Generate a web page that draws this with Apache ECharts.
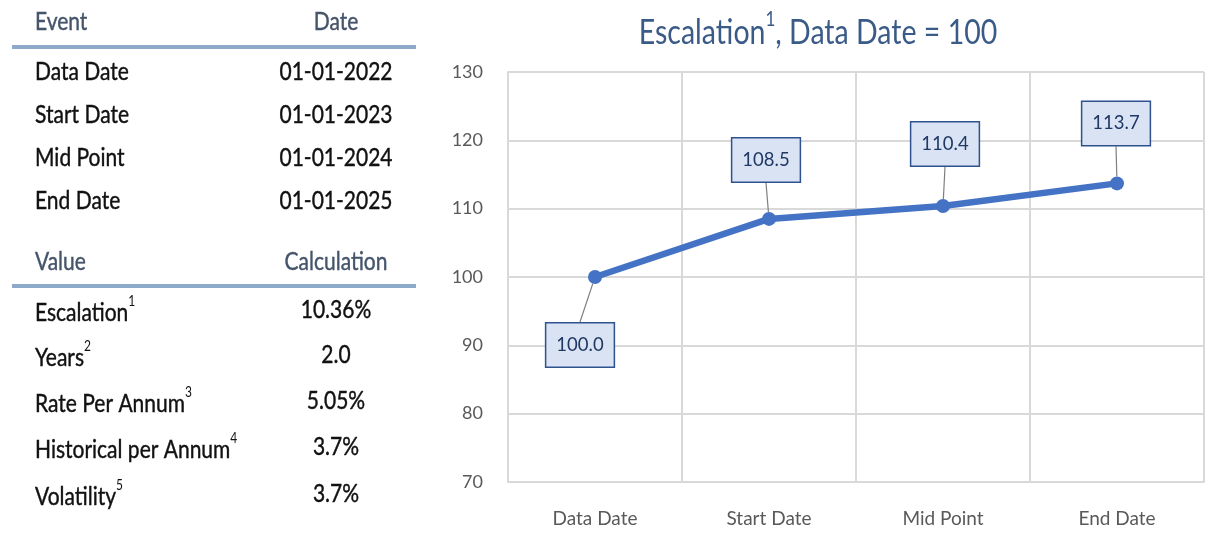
<!DOCTYPE html>
<html>
<head>
<meta charset="utf-8">
<script src="https://cdn.jsdelivr.net/npm/echarts@6/dist/echarts.min.js"></script>
<style>
  html, body { margin: 0; padding: 0; background: #ffffff; }
  #chart { width: 1218px; height: 539px; }
</style>
</head>
<body>
<div id="chart"></div>
<script>
// Escalation index by milestone (Data Date = 100)
const categories = ['Data Date', 'Start Date', 'Mid Point', 'End Date'];
const escalationIndex = [100.0, 108.5, 110.4, 113.7];
const yTicks = [70, 80, 90, 100, 110, 120, 130];

// Milestone table
const eventNames = ['Data Date', 'Start Date', 'Mid Point', 'End Date'];
const eventDates = ['01-01-2022', '01-01-2023', '01-01-2024', '01-01-2025'];

// Calculated values table (name, footnote number, value)
const valueNames = ['Escalation', 'Years', 'Rate Per Annum', 'Historical per Annum', 'Volatility'];
const valueNotes = ['1', '2', '3', '4', '5'];
const valueCalcs = ['10.36%', '2.0', '5.05%', '3.7%', '3.7%'];

const FONT = 'Lato, "Open Sans", sans-serif';
const HEAD_COLOR = '#44546a';
const BODY_COLOR = '#111111';
const RULE_COLOR = '#8eaacb';
const BLUE = '#4472c4';
const TXT_SCALE_Y = 1.2;   // tall, narrow text look

const chart = echarts.init(document.getElementById('chart'), null, { renderer: 'canvas' });

function cellText(x, y, text, opts) {
  const fill = (opts && opts.fill) || BODY_COLOR;
  return {
    type: 'text',
    x: x, y: y,
    scaleY: TXT_SCALE_Y,
    style: Object.assign({
      text: text,
      font: '21px ' + FONT,
      fill: fill,
      stroke: fill,
      lineWidth: 0.35,
      align: 'left',
      verticalAlign: 'middle'
    }, opts || {})
  };
}

const tableEls = [];
const colX = 35, calcX = 336;
// Milestone header
tableEls.push(cellText(colX, 22, 'Event', { fill: HEAD_COLOR }));
tableEls.push(cellText(calcX, 22, 'Date', { fill: HEAD_COLOR, align: 'center' }));
tableEls.push({ type: 'rect', shape: { x: 12, y: 45, width: 404, height: 4 }, style: { fill: RULE_COLOR } });
const eventRowY = [72, 115, 158, 201];
eventNames.forEach((n, i) => {
  tableEls.push(cellText(colX, eventRowY[i], n));
  tableEls.push(cellText(calcX, eventRowY[i], eventDates[i], { align: 'center' }));
});
// Calculation header
tableEls.push(cellText(colX, 262, 'Value', { fill: HEAD_COLOR }));
tableEls.push(cellText(calcX, 262, 'Calculation', { fill: HEAD_COLOR, align: 'center' }));
tableEls.push({ type: 'rect', shape: { x: 12, y: 284, width: 404, height: 4 }, style: { fill: RULE_COLOR } });
const valueRowY = [310, 355, 401, 447, 494];
valueNames.forEach((n, i) => {
  tableEls.push({
    type: 'text',
    x: colX, y: valueRowY[i],
    scaleY: TXT_SCALE_Y,
    style: {
      text: '{m|' + n + '}{s|' + valueNotes[i] + '}',
      verticalAlign: 'middle',
      rich: {
        m: { font: '21px ' + FONT, fill: BODY_COLOR, stroke: BODY_COLOR, lineWidth: 0.35, verticalAlign: 'bottom', lineHeight: 26 },
        s: { font: '12px ' + FONT, fill: BODY_COLOR, verticalAlign: 'top', lineHeight: 26 }
      }
    }
  });
  tableEls.push(cellText(calcX, valueRowY[i], valueCalcs[i], { align: 'center' }));
});

// Chart title
const titleEl = {
  type: 'text',
  x: 818, y: 30,
  scaleY: TXT_SCALE_Y,
  style: {
    text: '{m|Escalation}{s|1}{m|, Data Date = 100}',
    align: 'center',
    verticalAlign: 'middle',
    rich: {
      m: { font: '28.5px ' + FONT, fill: '#3a5a87', verticalAlign: 'bottom', lineHeight: 34 },
      s: { font: '17px ' + FONT, fill: '#3a5a87', verticalAlign: 'top', lineHeight: 34 }
    }
  }
};

// Label placement relative to each point
const labelShift = [
  { dx: -15, dy: 68 },
  { dx: -3, dy: -59 },
  { dx: 2, dy: -62 },
  { dx: -1, dy: -60 }
];

const option = {
  backgroundColor: '#ffffff',
  animation: false,
  grid: { left: 508, right: 14, top: 72, bottom: 57, containLabel: false },
  xAxis: {
    type: 'category',
    data: categories,
    boundaryGap: true,
    axisLine: { show: true, lineStyle: { color: '#d9d9d9', width: 2 } },
    axisTick: { show: false },
    axisLabel: { color: '#595959', fontFamily: FONT, fontSize: 19, margin: 27 },
    splitLine: { show: true, lineStyle: { color: '#d9d9d9', width: 2 } }
  },
  yAxis: {
    type: 'value',
    min: yTicks[0],
    max: yTicks[yTicks.length - 1],
    interval: 10,
    axisLine: { show: true, lineStyle: { color: '#d9d9d9', width: 2 } },
    axisTick: { show: false },
    axisLabel: { color: '#595959', fontFamily: FONT, fontSize: 18, margin: 25 },
    splitLine: { show: true, lineStyle: { color: '#d9d9d9', width: 2 } }
  },
  graphic: tableEls.concat([
    titleEl,
    // top and right edges of the plot frame
    { type: 'line', shape: { x1: 1204, y1: 72, x2: 1204, y2: 482 }, style: { stroke: '#d9d9d9', lineWidth: 2 }, z: 1 },
    { type: 'line', shape: { x1: 508, y1: 72, x2: 1204, y2: 72 }, style: { stroke: '#d9d9d9', lineWidth: 2 }, z: 1 }
  ]),
  series: [{
    type: 'line',
    data: escalationIndex,
    symbol: 'circle',
    symbolSize: 14,
    lineStyle: { color: BLUE, width: 6.5 },
    itemStyle: { color: BLUE },
    z: 5,
    label: {
      show: true,
      position: 'inside',
      formatter: p => p.value.toFixed(1),
      fontFamily: FONT,
      fontSize: 18.5,
      color: '#1f3864',
      backgroundColor: '#dae3f3',
      borderColor: '#2f528f',
      borderWidth: 1.5,
      padding: [13, 10, 11, 10]
    },
    labelLine: { show: true, lineStyle: { color: '#7f7f7f', width: 1.2 } },
    labelLayout: p => labelShift[p.dataIndex]
  }]
};

chart.setOption(option);
</script>
</body>
</html>
